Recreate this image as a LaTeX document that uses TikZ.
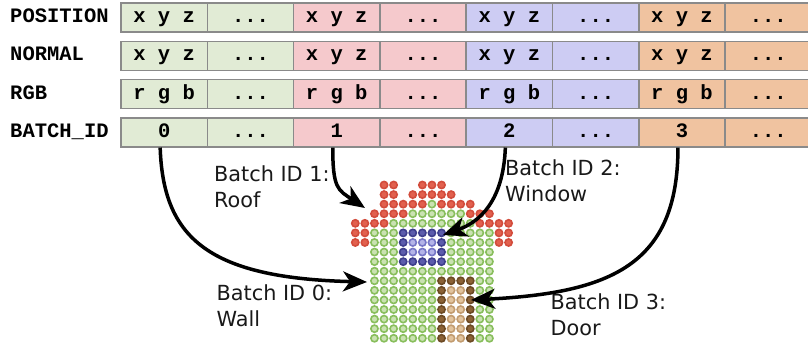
\documentclass[tikz,border=0pt]{standalone}
\usepackage{fontspec}
\newfontfamily\cellfont{Liberation Mono}
\newfontfamily\notefont{DejaVu Sans}
\usetikzlibrary{arrows.meta}

% table cell colours
\definecolor{cellline}{HTML}{8A8A8A}
\definecolor{cellgreen}{HTML}{E1EBD5}
\definecolor{cellpink}{HTML}{F5C9CC}
\definecolor{cellblue}{HTML}{CDCCF3}
\definecolor{cellorange}{HTML}{F0C3A0}
% house dot colours
\definecolor{wallfill}{HTML}{CAE2B2}
\definecolor{wallline}{HTML}{88BE5C}
\definecolor{rooffill}{HTML}{E2604E}
\definecolor{roofline}{HTML}{D24C3C}
\definecolor{winfill}{HTML}{5C5CAC}
\definecolor{winline}{HTML}{3E3E8C}
\definecolor{winlightfill}{HTML}{B4B4E8}
\definecolor{winlightline}{HTML}{7676C6}
\definecolor{doorfill}{HTML}{8C6236}
\definecolor{doorline}{HTML}{6C4A24}
\definecolor{doorlightfill}{HTML}{E2C49E}
\definecolor{doorlightline}{HTML}{C29C70}

\begin{document}
\begin{tikzpicture}[x=1pt,y=-1pt,
  cell/.style={draw=cellline, line width=1.5pt, minimum width=86.3pt,
    minimum height=29pt, inner sep=0pt, text height=10pt, text depth=0pt,
    font=\cellfont\bfseries\fontsize{20.5}{24}\selectfont},
  rowlabel/.style={anchor=west, inner sep=0pt, text height=10pt, text depth=0pt,
    font=\cellfont\bfseries\fontsize{20.5}{24}\selectfont},
  note/.style={anchor=base west, inner sep=0pt, align=left, text=black!90,
    font=\notefont\fontsize{20.8}{26}\selectfont},
  arr/.style={draw=black, line width=3.5pt,
    -{Stealth[length=24pt,width=20pt,inset=7pt]}},
  dotline/.style={line width=1.6pt},
  gdot/.style={dotline, draw=wallline, fill=wallfill},
  rdot/.style={dotline, draw=roofline, fill=rooffill},
  wdot/.style={dotline, draw=winline, fill=winfill},
  wlight/.style={dotline, draw=winlightline, fill=winlightfill},
  ddot/.style={dotline, draw=doorline, fill=doorfill},
  dlight/.style={dotline, draw=doorlightline, fill=doorlightfill},
]
\useasboundingbox (0,0) rectangle (808,347);

% ---- attribute table ----
\node[rowlabel] (lpos) at (10,17.7) {POSITION};
\node[rowlabel] (lnor) at (10,55.9) {NORMAL};
\node[rowlabel] (lrgb) at (10,94.1) {RGB};
\node[rowlabel] (lbid) at (10,132.3) {BATCH\_ID};

\foreach \i/\fc in {0/cellgreen,1/cellgreen,2/cellpink,3/cellpink,
                    4/cellblue,5/cellblue,6/cellorange,7/cellorange}{
  \pgfmathsetmacro\xc{121+86.3*(\i+0.5)}
  \pgfmathtruncatemacro\bid{\i/2}
  \ifodd\i
    \node[cell, fill=\fc] (pos\i) at (\xc,17.7) {...};
    \node[cell, fill=\fc] (nor\i) at (\xc,55.9) {...};
    \node[cell, fill=\fc] (rgb\i) at (\xc,94.1) {...};
    \node[cell, fill=\fc] (bid\i) at (\xc,132.3) {...};
  \else
    \node[cell, fill=\fc] (pos\i) at (\xc,17.7) {x y z};
    \node[cell, fill=\fc] (nor\i) at (\xc,55.9) {x y z};
    \node[cell, fill=\fc] (rgb\i) at (\xc,94.1) {r g b};
    \node[cell, fill=\fc] (bid\i) at (\xc,132.3) {\bid};
  \fi
}

% ---- house made of points ----
\def\hx#1{355.3+9.58*#1}
\def\hy#1{185+9.58*#1}
% roof
\foreach \c/\r in {3/0,4/0,7/0,8/0,9/0,
    3/1,4/1,6/1,7/1,8/1,9/1,10/1,
    3/2,4/2,5/2,6/2,7/2,9/2,10/2,11/2,12/2,
    2/3,3/3,4/3,5/3,12/3,13/3,14/3,
    0/4,1/4,2/4,3/4,13/4,14/4,15/4,16/4,
    0/5,1/5,15/5,16/5,0/6,1/6,15/6,16/6}
  \draw[rdot] ({\hx{\c}},{\hy{\r}}) circle (3.6pt);
% wall under the roof
\foreach \c/\r in {8/2,6/3,7/3,8/3,9/3,10/3,11/3,
    4/4,5/4,6/4,7/4,8/4,9/4,10/4,11/4,12/4}
  \draw[gdot] ({\hx{\c}},{\hy{\r}}) circle (3.6pt);
% wall body with window and door
\foreach \r in {5,...,16}{
  \foreach \c in {2,...,14}{
    \pgfmathtruncatemacro\kind{(\c>=5)*(\c<=9)*(\r>=5)*(\r<=8)
      + (\c>=6)*(\c<=8)*(\r>=6)*(\r<=7)
      + 3*(\c>=9)*(\c<=12)*(\r>=10)
      + (\c>=10)*(\c<=11)*(\r>=11)}
    \ifcase\kind \def\dsty{gdot}\or \def\dsty{wdot}\or \def\dsty{wlight}%
      \or \def\dsty{ddot}\or \def\dsty{dlight}\fi
    \draw[\dsty] ({\hx{\c}},{\hy{\r}}) circle (3.6pt);
  }
}

% ---- captions (anchored at the baseline of their last line) ----
\node[note] (cap1) at (214,207.7) {Batch ID 1:\\Roof};
\node[note] (cap2) at (505,201.5) {Batch ID 2:\\Window};
\node[note] (cap0) at (216.5,326) {Batch ID 0:\\Wall};
\node[note] (cap3) at (550.5,335) {Batch ID 3:\\Door};

% ---- arrows from batch ids to the parts ----
\coordinate (wallTip) at (367,282);
\coordinate (roofTip) at (365,208);
\coordinate (winTip) at (443,235);
\coordinate (doorTip) at (471,300);

\draw[arr] ([xshift=-4pt]bid0.south) .. controls +(3,88) and +(-162,-4) .. (wallTip);
\draw[arr] ([xshift=-4pt]bid2.south) .. controls +(0,41) and +(-27,-18) .. (roofTip);
\draw[arr] ([xshift=-4pt]bid4.south) .. controls +(-2,53) and +(37,-13) .. (winTip);
\draw[arr] ([xshift=-4pt]bid6.south) .. controls +(0,118) and +(139,-7) .. (doorTip);
\end{tikzpicture}
\end{document}
